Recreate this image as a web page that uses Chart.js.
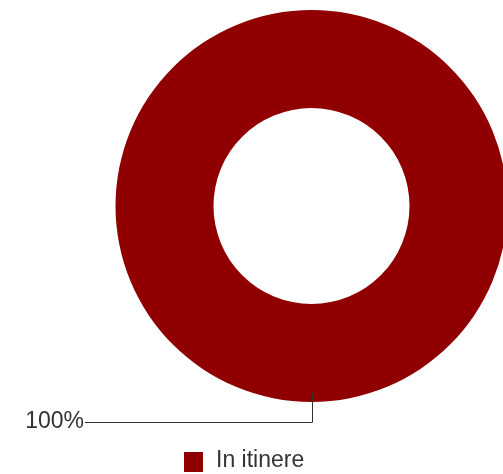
<!DOCTYPE html>
<html>
<head>
<meta charset="utf-8">
<script src="https://cdn.jsdelivr.net/npm/chart.js@4/dist/chart.umd.min.js"></script>
<style>
  html, body { margin: 0; padding: 0; background: #fff; overflow: hidden; }
  #wrap { width: 503px; height: 474px; position: relative; }
</style>
</head>
<body>
<div id="wrap"><canvas id="chart" width="503" height="474"></canvas></div>
<script>
const categories = ["In itinere"];
const values = [100];
const colors = ["#910000"];

// draws the "100%" callout with its elbow line, plus the legend under the pie
const calloutPlugin = {
  id: 'callout',
  afterDraw: c => {
    const ctx = c.ctx;
    const meta = c.getDatasetMeta(0);
    const total = values.reduce((a, b) => a + b, 0);
    ctx.save();
    ctx.font = '23px "Liberation Sans", Arial, sans-serif';
    meta.data.forEach((arc, i) => {
      const p = arc.getProps(['x', 'y', 'startAngle', 'endAngle', 'outerRadius'], true);
      const mid = (p.startAngle + p.endAngle) / 2;
      const ex = p.x + Math.cos(mid) * (p.outerRadius - 9);
      const ey = p.y + Math.sin(mid) * (p.outerRadius - 9);
      const ky = p.y + Math.sin(mid) * p.outerRadius + 20;
      ctx.strokeStyle = '#333';
      ctx.lineWidth = 1;
      ctx.beginPath();
      ctx.moveTo(Math.round(ex) + 0.5, ey);
      ctx.lineTo(Math.round(ex) + 0.5, Math.round(ky) + 0.5);
      ctx.lineTo(85, Math.round(ky) + 0.5);
      ctx.stroke();
      ctx.fillStyle = '#333';
      ctx.textAlign = 'right';
      ctx.textBaseline = 'middle';
      ctx.fillText(Math.round(values[i] / total * 100) + '%', 84, ky);
    });
    // legend
    ctx.textAlign = 'left';
    ctx.textBaseline = 'alphabetic';
    categories.forEach((cat, i) => {
      ctx.fillStyle = colors[i];
      ctx.fillRect(184, 452, 19, 20);
      ctx.fillStyle = '#333';
      ctx.fillText(cat, 216, 467);
    });
    ctx.restore();
  }
};

const chart = new Chart(document.getElementById('chart'), {
  type: 'doughnut',
  data: {
    labels: categories,
    datasets: [{
      data: values,
      backgroundColor: colors,
      borderWidth: 0,
      radius: 196,
      cutout: '50%'
    }]
  },
  options: {
    responsive: false,
    animation: false,
    layout: { padding: { left: 120, right: 0, top: 10, bottom: 72 } },
    plugins: {
      legend: { display: false },
      tooltip: { enabled: false }
    }
  },
  plugins: [calloutPlugin]
});
</script>
</body>
</html>
